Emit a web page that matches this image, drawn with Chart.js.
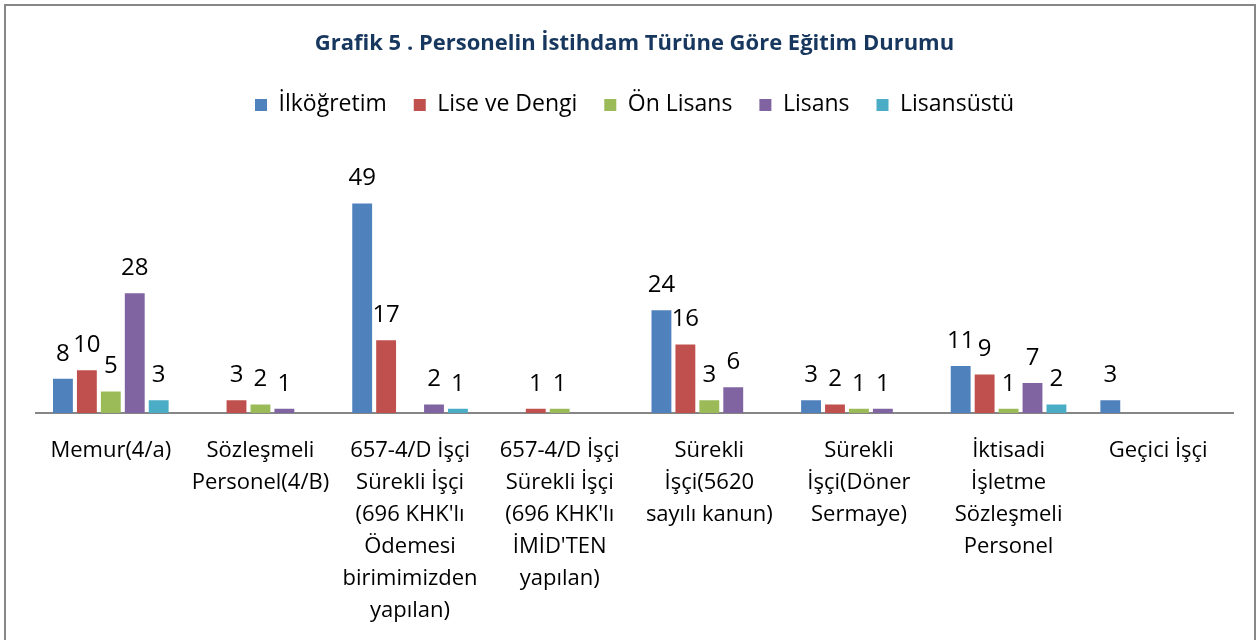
<!DOCTYPE html>
<html>
<head>
<meta charset="utf-8">
<script src="https://cdn.jsdelivr.net/npm/chart.js@4"></script>
<style>
  html, body { margin: 0; padding: 0; background: #fff; overflow: hidden; }
  #wrap { position: relative; width: 1258px; height: 640px; }
  #frame {
    position: absolute; left: 4px; top: 4px; width: 1252px; height: 700px;
    border: 2px solid #878787; box-sizing: border-box; pointer-events: none;
  }
</style>
</head>
<body>
<div id="wrap">
  <canvas id="grafik" width="1258" height="640"></canvas>
  <div id="frame"></div>
</div>
<script>
const kategoriler = [
  "Memur(4/a)",
  ["Sözleşmeli", "Personel(4/B)"],
  ["657-4/D İşçi", "Sürekli İşçi", "(696 KHK'lı", "Ödemesi", "birimimizden", "yapılan)"],
  ["657-4/D İşçi", "Sürekli İşçi", "(696 KHK'lı", "İMİD'TEN", "yapılan)"],
  ["Sürekli", "İşçi(5620", "sayılı kanun)"],
  ["Sürekli", "İşçi(Döner", "Sermaye)"],
  ["İktisadi", "İşletme", "Sözleşmeli", "Personel"],
  "Geçici İşçi"
];

// boş hücreler null (çubuk ve etiket yok)
const ilkogretim = [8, null, 49, null, 24, 3, 11, 3];
const liseVeDengi = [10, 3, 17, 1, 16, 2, 9, null];
const onLisans = [5, 2, null, 1, 3, 1, 1, null];
const lisans = [28, 1, 2, null, 6, 1, 7, null];
const lisansustu = [3, null, 1, null, null, null, 2, null];

const FONT = "'Open Sans', 'Noto Sans', sans-serif";

// çubukların üstüne değer yaz
const degerEtiketi = {
  id: "degerEtiketi",
  afterDatasetsDraw(chart) {
    const ctx = chart.ctx;
    ctx.save();
    ctx.font = "24px " + FONT;
    ctx.fillStyle = "#000";
    ctx.textAlign = "center";
    ctx.textBaseline = "middle";
    chart.data.datasets.forEach((ds, i) => {
      chart.getDatasetMeta(i).data.forEach((bar, j) => {
        const v = ds.data[j];
        if (v == null) return;
        ctx.fillText(String(v), bar.x, bar.y - 25);
      });
    });
    ctx.restore();
  }
};

new Chart(document.getElementById("grafik").getContext("2d"), {
  type: "bar",
  data: {
    labels: kategoriler,
    datasets: [
      { label: "İlköğretim", data: ilkogretim, backgroundColor: "#4F81BD" },
      { label: "Lise ve Dengi", data: liseVeDengi, backgroundColor: "#C0504D" },
      { label: "Ön Lisans", data: onLisans, backgroundColor: "#9BBB59" },
      { label: "Lisans", data: lisans, backgroundColor: "#8064A2" },
      { label: "Lisansüstü", data: lisansustu, backgroundColor: "#4BACC6" }
    ]
  },
  options: {
    responsive: false,
    animation: false,
    categoryPercentage: 0.8,
    barPercentage: 0.83,
    layout: { padding: { left: 36, right: 25, top: 0, bottom: 0 } },
    plugins: {
      title: {
        display: true,
        text: "Grafik 5 . Personelin İstihdam Türüne Göre Eğitim Durumu",
        color: "#17375E",
        font: { family: FONT, size: 22, weight: "bold" },
        padding: { top: 31, bottom: 9 }
      },
      legend: {
        labels: {
          color: "#000",
          boxWidth: 12,
          boxHeight: 12,
          padding: 27,
          font: { family: FONT, size: 23 }
        }
      },
      tooltip: { enabled: false }
    },
    scales: {
      y: { display: false, min: 0, max: 67 },
      x: {
        grid: { display: false, drawTicks: false },
        border: { display: true, color: "#868686", width: 2 },
        ticks: {
          color: "#000",
          autoSkip: false,
          maxRotation: 0,
          minRotation: 0,
          padding: 22,
          font: { family: FONT, size: 22, lineHeight: "32px" }
        },
        afterFit: (axis) => { axis.height = 227; }
      }
    }
  },
  plugins: [degerEtiketi]
});
</script>
</body>
</html>
